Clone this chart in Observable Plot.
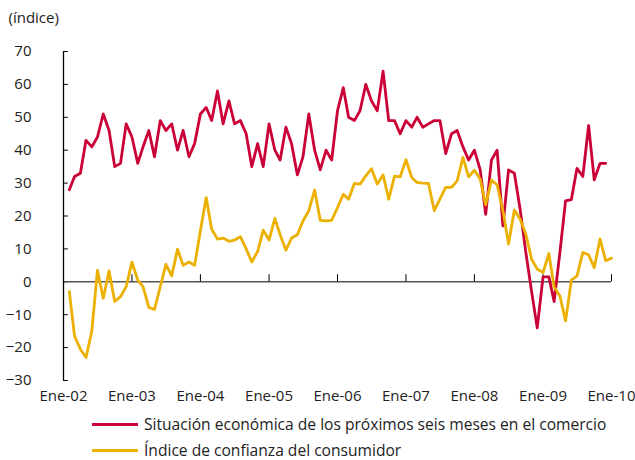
<!DOCTYPE html>
<html><head><meta charset="utf-8">
<script src="https://cdn.jsdelivr.net/npm/d3@7"></script>
<script src="https://cdn.jsdelivr.net/npm/@observablehq/plot@0.6"></script>
<style>
body{margin:0;background:#fff;font-family:"Open Sans",sans-serif;overflow:hidden;}
#legend{position:absolute;left:92px;top:416px;font-size:15.6px;color:#222;}
.row{display:flex;align-items:center;height:16px;line-height:16px;white-space:nowrap;}
.row + .row{margin-top:10px;}
.sw{width:46px;height:3px;margin-right:6px;}
</style></head><body>
<div id="chart"></div>
<div id="legend"></div>
<script>
// Monthly data, first value = February 2002
const firstYear = 2002, firstMonth = 1;
const tickYears = [2002,2003,2004,2005,2006,2007,2008,2009,2010];
const tickLabels = ["Ene-02","Ene-03","Ene-04","Ene-05","Ene-06","Ene-07","Ene-08","Ene-09","Ene-10"];
const yTicks = [-30,-20,-10,0,10,20,30,40,50,60,70];
const seriesNames = ["Situación económica de los próximos seis meses en el comercio","Índice de confianza del consumidor"];
const seriesColors = ["#CA0036","#EBB000"];
const comercio = [28,32,33,43,41,44,51,46,35,36,
  48,44,36,41,46,38,49,46,48,40,
  46,38,42,51,53,49,58,48,55,48,
  49,45,35,42,35,48,40,37,47,42,
  32.5,38,51,40,34,40,37,52,59,50,
  49,52,60,55,52,64,49,49,45,49,
  47,50,47,48,49,49,39,45,46,41,
  37,40,34,20.5,37,40,17,34,33,22,
  9,-3,-14,1.5,1.5,-6,9,24.6,25,34.5,
  32,47.5,31,36,36];
const consumidor = [-3,-16.5,-20.5,-23,-15,3.5,-5,3.3,-6,-4.5,
  -1.5,6,0.5,-1.5,-7.8,-8.4,-1.5,5.3,1.8,9.9,
  5,6,5,15.5,25.6,16,13,13.3,12.3,12.7,
  13.7,10,6,9.2,15.7,12.7,19.3,14.3,9.6,13.3,
  14.3,18.5,21.6,27.9,18.7,18.5,18.7,22.5,26.6,25.1,
  29.9,29.7,32.2,34.4,29.7,32.5,25.1,32.1,31.9,37.1,
  31.7,30.2,30,29.9,21.6,25.1,28.7,28.7,30.7,37.8,
  31.9,33.9,31.2,23.4,30.9,29.5,21.6,11.5,21.8,19,
  14.5,6.9,3.9,2.8,8.6,-1.5,-4.3,-11.9,0.5,1.8,
  8.9,8.2,4.3,13,6.4,7.2];

const toRows = (vals) => vals.map((v,i) => ({date: new Date(Date.UTC(firstYear, firstMonth + i, 1)), value: v}));
const yearDates = tickYears.map(y => new Date(Date.UTC(y,0,1)));
const labelOf = d => tickLabels[tickYears.indexOf(d.getUTCFullYear())];

const chart = Plot.plot({
  width: 635, height: 412,
  marginLeft: 63, marginRight: 24, marginTop: 51, marginBottom: 32,
  style: {fontFamily: "'Open Sans', sans-serif", fontSize: "15px", color: "#222", background: "#fff"},
  x: {type: "utc", domain: [yearDates[0], yearDates[yearDates.length-1]]},
  y: {domain: [-30, 70]},
  marks: [
    Plot.axisY(yTicks, {tickSize: 0, tickPadding: 32, label: null}),
    Plot.axisX(yearDates, {tickSize: 0, tickPadding: 10, tickFormat: labelOf, label: null, anchor: "bottom"}),
    Plot.text(["(índice)"], {frameAnchor: "top-left", dx: -55, dy: -33, textAnchor: "start", lineAnchor: "middle", fill: "#222"}),
    Plot.ruleY(yTicks, {x1: yearDates[0], x2: new Date(Date.UTC(2002,0,27)), stroke: "#000", strokeWidth: 1}),
    Plot.ruleY([0], {stroke: "#555", strokeWidth: 1.5}),
    Plot.ruleX(yearDates.slice(1), {y1: 0, y2: 2.15, stroke: "#000", strokeWidth: 1}),
    Plot.ruleX([yearDates[0]], {y1: -30, y2: 70, stroke: "#000", strokeWidth: 1.3}),
    Plot.line(toRows(comercio), {x: "date", y: "value", stroke: seriesColors[0], strokeWidth: 2.8}),
    Plot.line(toRows(consumidor), {x: "date", y: "value", stroke: seriesColors[1], strokeWidth: 2.8})
  ]
});
document.getElementById("chart").appendChild(chart);

const legend = document.getElementById("legend");
seriesNames.forEach((name, i) => {
  const row = document.createElement("div");
  row.className = "row";
  const sw = document.createElement("span");
  sw.className = "sw";
  sw.style.background = seriesColors[i];
  const t = document.createElement("span");
  t.textContent = name;
  row.appendChild(sw); row.appendChild(t);
  legend.appendChild(row);
});
</script>
</body></html>
